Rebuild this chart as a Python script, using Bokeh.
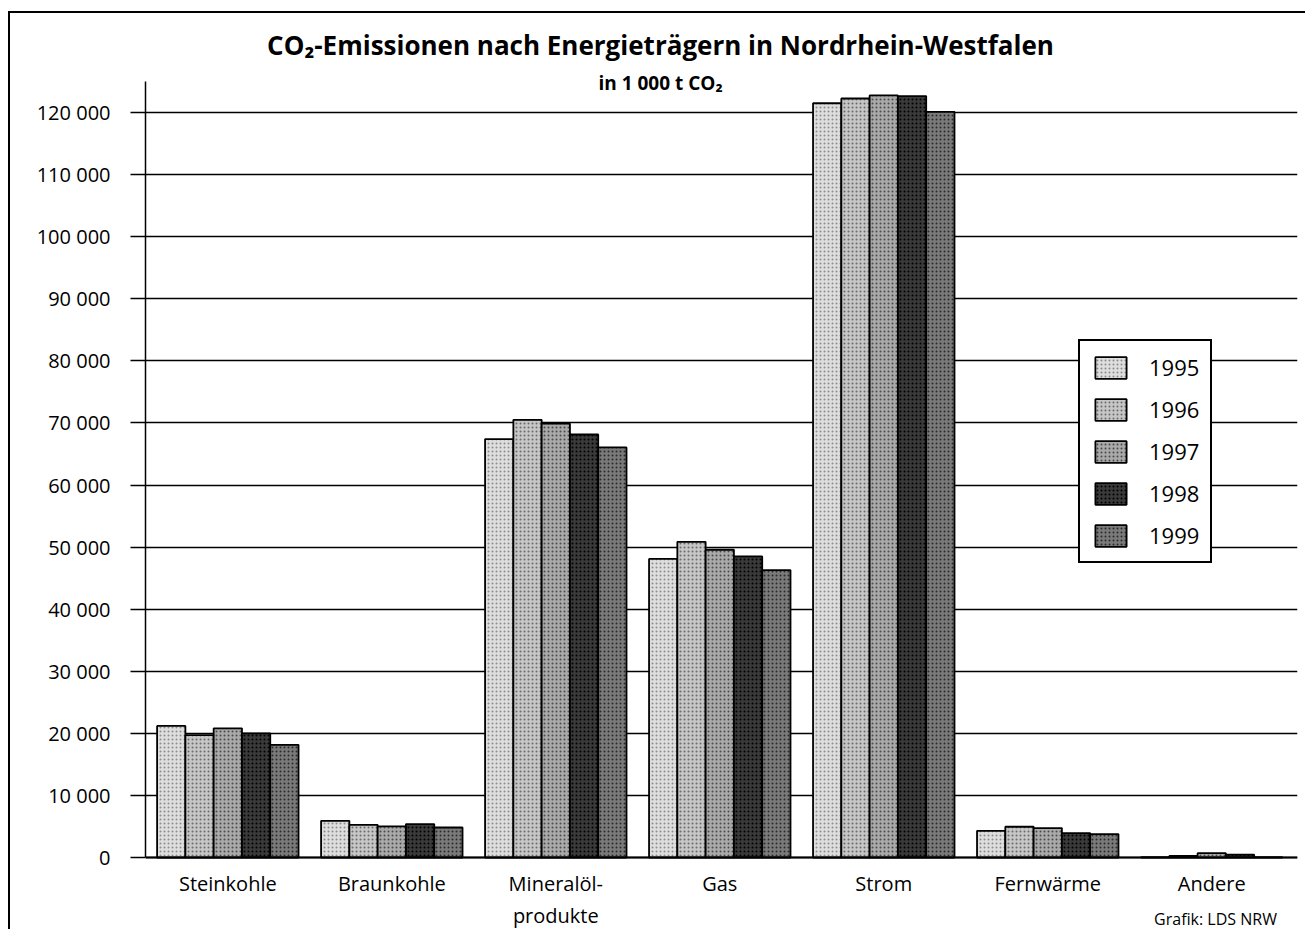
import numpy as np
from bokeh.plotting import figure
from bokeh.models import (FixedTicker, Legend, LegendItem, Label, Range1d)
from bokeh.embed import file_html
from bokeh.resources import INLINE

# ---------------- data ----------------
categories = ["Steinkohle", "Braunkohle", "Mineralöl-\nprodukte", "Gas", "Strom", "Fernwärme", "Andere"]
years = ["1995", "1996", "1997", "1998", "1999"]
v1995 = [21200, 5900, 67400, 48100, 121500, 4300, 50]
v1996 = [19700, 5270, 70500, 50850, 122260, 4950, 250]
v1997 = [20800, 5000, 69900, 49570, 122750, 4740, 700]
v1998 = [20000, 5380, 68140, 48490, 122650, 3930, 450]
v1999 = [18150, 4830, 66050, 46300, 120120, 3770, 50]
series = [v1995, v1996, v1997, v1998, v1999]
y_ticks = [0, 10000, 20000, 30000, 40000, 50000, 60000, 70000, 80000, 90000, 100000, 110000, 120000]
y_tick_labels = ["0", "10 000", "20 000", "30 000", "40 000", "50 000", "60 000",
                 "70 000", "80 000", "90 000", "100 000", "110 000", "120 000"]
title_text = "CO\u2082-Emissionen nach Energieträgern in Nordrhein-Westfalen"
subtitle_text = "in 1 000 t CO\u2082"
source_text = "Grafik: LDS NRW"

# ---------------- layout / styles ----------------
FONT = "Open Sans, Noto Sans, DejaVu Sans"
fills = ["#dedede", "#c6c6c6", "#a9a9a9", "#3a3a3a", "#7a7a7a"]
hatch_cols = ["#8a8a8a", "#6a6a6a", "#4a4a4a", "#000000", "#2a2a2a"]
bar_w = 0.1725

W, H = 1297, 918          # canvas size (border and margin are outside)
frame_bottom_px = 74       # distance of the value 0 from the frame bottom
axis_top_value = 125000    # y axis line ends here
px_per_value = 62.08 / 10000.0
y_lo = -frame_bottom_px / px_per_value
y_hi = (H - frame_bottom_px) / px_per_value

p = figure(width=W, height=H, output_backend="svg", toolbar_location=None,
           x_range=Range1d(-0.502, 6.523), y_range=Range1d(y_lo, y_hi),
           min_border_left=135, min_border_right=10, min_border_top=0, min_border_bottom=0)
p.margin = (11, 0, 0, 8)
p.styles = {"border-left": "2px solid black", "border-top": "2px solid black"}
p.outline_line_color = None
p.background_fill_color = "white"
p.border_fill_color = "white"

x = np.arange(len(categories))
renderers = []
for i, vals in enumerate(series):
    off = (i - 2) * bar_w
    r = p.vbar(x=x + off, top=vals, width=bar_w, bottom=0,
               fill_color=fills[i], line_color="black", line_width=1.8,
               hatch_pattern="dot", hatch_color=hatch_cols[i], hatch_scale=4, hatch_weight=1.2)
    renderers.append(r)

# axes
p.yaxis.bounds = (0, axis_top_value)
p.yaxis.ticker = FixedTicker(ticks=y_ticks)
p.yaxis.major_label_overrides = {t: l for t, l in zip(y_ticks, y_tick_labels)}
p.yaxis.major_tick_out = 15
p.yaxis.major_tick_in = 0
p.yaxis.minor_tick_line_color = None
p.yaxis.major_label_standoff = 20
p.yaxis.major_label_text_font = FONT
p.yaxis.major_label_text_font_size = "20px"
p.yaxis.major_label_text_color = "black"
p.yaxis.axis_line_width = 1.5
p.yaxis.major_tick_line_width = 1.5

p.xaxis.fixed_location = 0
p.xaxis.ticker = FixedTicker(ticks=list(range(len(categories))))
p.xaxis.major_label_overrides = {i: c for i, c in enumerate(categories)}
p.xaxis.major_tick_out = 0
p.xaxis.major_tick_in = 0
p.xaxis.minor_tick_line_color = None
p.xaxis.major_label_standoff = 12
p.xaxis.major_label_text_font = FONT
p.xaxis.major_label_text_font_size = "20px"
p.xaxis.major_label_text_color = "black"
p.xaxis.axis_line_width = 1.8

p.xgrid.grid_line_color = None
p.ygrid.ticker = FixedTicker(ticks=y_ticks)
p.ygrid.grid_line_color = "black"
p.ygrid.grid_line_width = 1.5

# legend
legend = Legend(items=[LegendItem(label=y, renderers=[r]) for y, r in zip(years, renderers)],
                location=(933, 294 + frame_bottom_px), orientation="vertical")
legend.glyph_width = 39
legend.glyph_height = 27
legend.label_height = 27
legend.spacing = 12
legend.padding = 11
legend.margin = 0
legend.label_standoff = 19
legend.label_text_font = FONT
legend.label_text_font_size = "22px"
legend.label_text_color = "black"
legend.border_line_color = "black"
legend.border_line_alpha = 1
legend.border_line_width = 2
legend.background_fill_alpha = 1
p.add_layout(legend)

# titles and source note (screen units from the frame's bottom-left corner)
p.add_layout(Label(x=515, y=H - 31, x_units="screen", y_units="screen", text=title_text,
                   text_align="center", text_baseline="middle", text_font=FONT,
                   text_font_size="26px", text_font_style="bold", text_color="black"))
p.add_layout(Label(x=515, y=H - 69, x_units="screen", y_units="screen", text=subtitle_text,
                   text_align="center", text_baseline="middle", text_font=FONT,
                   text_font_size="19px", text_font_style="bold", text_color="black"))
p.add_layout(Label(x=1070, y=13, x_units="screen", y_units="screen", text=source_text,
                   text_align="center", text_baseline="middle", text_font=FONT,
                   text_font_size="16px", text_color="black"))

open("out.html", "w").write(file_html(p, INLINE))
